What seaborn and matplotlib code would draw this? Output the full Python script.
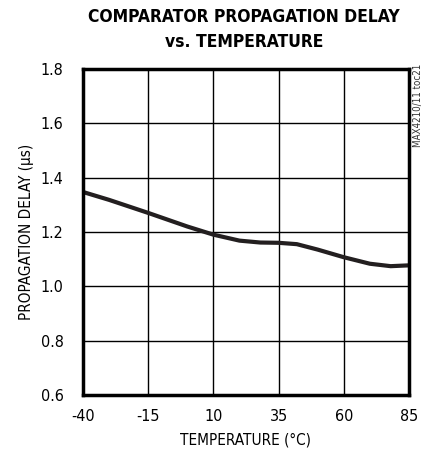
import matplotlib
matplotlib.use("Agg")
import matplotlib.pyplot as plt
import seaborn as sns
import pandas as pd

# valeurs
temperature = [-40, -30, -15, 0, 10, 20, 28, 35, 42, 50, 60, 70, 78, 85]
delay_us = [1.347, 1.318, 1.270, 1.220, 1.190, 1.168, 1.161, 1.160, 1.155, 1.135, 1.107, 1.083, 1.074, 1.077]

x_ticks = [-40, -15, 10, 35, 60, 85]
y_ticks = [0.6, 0.8, 1.0, 1.2, 1.4, 1.6, 1.8]

sns.set_style("white")
plt.rcParams['font.family'] = ['DejaVu Sans']
plt.rcParams['font.stretch'] = 'condensed'
plt.rcParams['text.color'] = 'black'
plt.rcParams['axes.labelcolor'] = 'black'
plt.rcParams['xtick.color'] = 'black'
plt.rcParams['ytick.color'] = 'black'

df = pd.DataFrame({"temp": temperature, "delay": delay_us})

fig = plt.figure(figsize=(4.30, 4.58), dpi=100)
ax = fig.add_axes([0.193, 0.1376, 0.758, 0.712])

sns.lineplot(data=df, x="temp", y="delay", ax=ax, color="#231f20", linewidth=3)

ax.set_xlim(-40, 85)
ax.set_ylim(0.6, 1.8)
ax.set_xticks(x_ticks)
ax.set_yticks(y_ticks)
ax.set_xticklabels([str(t) for t in x_ticks])
ax.set_yticklabels([f"{t:.1f}" for t in y_ticks])
ax.grid(True, color="black", linewidth=1)
ax.tick_params(axis="x", length=0, labelsize=11.5, pad=10)
ax.tick_params(axis="y", length=0, labelsize=11.5, pad=14)
for s in ax.spines.values():
    s.set_color("black")
    s.set_linewidth(2.5)

ax.set_xlabel("TEMPERATURE (°C)", fontsize=11, labelpad=6)
ax.set_ylabel("PROPAGATION DELAY (µs)", fontsize=11, labelpad=5)

fig.text(0.568, 0.982, "COMPARATOR PROPAGATION DELAY\nvs. TEMPERATURE",
         ha="center", va="top", fontsize=12.5, fontweight="heavy", linespacing=1.45)
fig.text(0.973, 0.86, "MAX4210/11 toc21", rotation=90, ha="center", va="top",
         fontsize=7, color="#333333")

plt.savefig("out.png", dpi=100)
